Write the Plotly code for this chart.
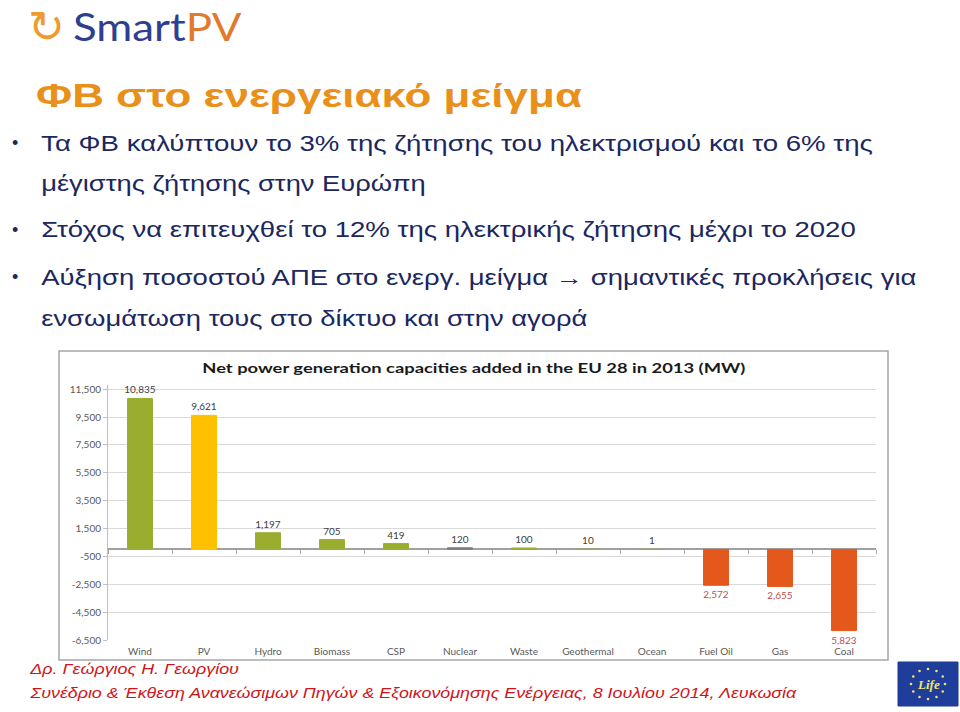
import math
import json
import plotly.graph_objects as go

# ---- data ----
categories = ["Wind", "PV", "Hydro", "Biomass", "CSP", "Nuclear", "Waste",
              "Geothermal", "Ocean", "Fuel Oil", "Gas", "Coal"]
values_mw = [10835, 9621, 1197, 705, 419, 120, 100, 10, 1, -2572, -2655, -5823]
bar_colors = ["#9AAD2F", "#FFC000", "#9AAD2F", "#9AAD2F", "#9AAD2F", "#7F7F7F",
              "#9AAD2F", "#9AAD2F", "#9AAD2F", "#E4581B", "#E4581B", "#E4581B"]
ytick_vals = [11500, 9500, 7500, 5500, 3500, 1500, -500, -2500, -4500, -6500]
ytick_text = ["11,500", "9,500", "7,500", "5,500", "3,500", "1,500", "-500",
              "-2,500", "-4,500", "-6,500"]
y_range = [-6500, 11800]

chart_title = "Net power generation capacities added in the EU 28 in 2013 (MW)"
slide_title = "ΦΒ στο ενεργειακό μείγμα"
bullet_lines = [
    ("•", "Τα ΦΒ καλύπτουν το 3% της ζήτησης του ηλεκτρισμού και το 6% της", 143, 832),
    ("", "μέγιστης ζήτησης στην Ευρώπη", 184, 385),
    ("•", "Στόχος να επιτευχθεί το 12% της ηλεκτρικής ζήτησης μέχρι το 2020", 230, 815),
    ("•", "Αύξηση ποσοστού ΑΠΕ στο ενεργ. μείγμα <b>→</b> σημαντικές προκλήσεις για", 277, 876),
    ("", "ενσωμάτωση τους στο δίκτυο και στην αγορά", 318, 547),
]
footer1 = "Δρ. Γεώργιος Η. Γεωργίου"
footer2 = "Συνέδριο & Έκθεση Ανανεώσιμων Πηγών & Εξοικονόμησης Ενέργειας, 8 Ιουλίου 2014, Λευκωσία"

# ---- layout geometry (pixels) ----
W, H = 960, 712
L, R, T, B = 108, 84, 385, 72
PW, PH = W - L - R, H - T - B


def px(x):
    return (x - L) / PW


def py(y):
    return (H - B - y) / PH


label_text = [f"{abs(v):,}" for v in values_mw]
label_colors = ["#404040" if v >= 0 else "#C0504D" for v in values_mw]

fig = go.Figure()
fig.add_trace(go.Bar(
    x=categories, y=values_mw,
    marker=dict(color=bar_colors, line=dict(color=bar_colors, width=1)),
    text=label_text, textposition="outside", constraintext="none",
    textfont=dict(family="Lato", size=10, color=label_colors),
    cliponaxis=False, width=0.39, hoverinfo="x+y",
))
# invisible trace to carry the boundary ticks on the zero line
fig.add_trace(go.Scatter(x=categories, y=[0] * len(categories), xaxis="x2",
                         mode="markers", marker=dict(opacity=0), hoverinfo="skip"))

zero_pos = (0 - y_range[0]) / (y_range[1] - y_range[0])

fig.update_layout(
    width=W, height=H,
    margin=dict(l=L, r=R, t=T, b=B),
    paper_bgcolor="white", plot_bgcolor="white",
    showlegend=False,
    xaxis=dict(type="category", showline=False, ticks="", showgrid=False,
               ticklabelstandoff=4,
               tickfont=dict(family="Lato", size=10, color="#595959"),
               range=[-0.5, len(categories) - 0.5]),
    xaxis2=dict(type="category", overlaying="x", anchor="free", position=zero_pos,
                side="bottom", showline=False, showgrid=False, showticklabels=False,
                ticks="outside", ticklen=4, tickcolor="#A6A6A6", tickson="boundaries",
                range=[-0.5, len(categories) - 0.5]),
    yaxis=dict(range=y_range, tickvals=ytick_vals, ticktext=ytick_text,
               showgrid=True, gridcolor="#D9D9D9", gridwidth=1,
               zeroline=True, zerolinecolor="#A0A0A0", zerolinewidth=1.5,
               showline=True, linecolor="#BFBFBF", linewidth=1,
               ticks="outside", ticklen=4, tickcolor="#BFBFBF",
               tickfont=dict(family="Lato", size=10, color="#595959")),
)

shapes = [
    # chart frame
    dict(type="rect", xref="paper", yref="paper", x0=px(59), x1=px(888), y0=py(660), y1=py(351),
         line=dict(color="#A6A6A6", width=1.5), fillcolor="rgba(0,0,0,0)", layer="below"),
    # EU Life logo box
    dict(type="rect", xref="paper", yref="paper", x0=px(898), x1=px(958), y0=py(706), y1=py(662),
         line=dict(color="#1A3A8F", width=1), fillcolor="#1F3E9C"),
]
# ring of stars on the Life logo (decoration)
for k in range(12):
    a = 2 * math.pi * k / 12
    cx, cy = 928 + 17 * math.cos(a), 684 + 15 * math.sin(a)
    shapes.append(dict(type="circle", xref="paper", yref="paper",
                       x0=px(cx - 1.3), x1=px(cx + 1.3), y0=py(cy + 1.3), y1=py(cy - 1.3),
                       line=dict(width=0), fillcolor="#F3E36A"))

ann = []
stretch = []  # (annotation index, target width px, anchor)


def add_ann(text, x, y, font, xanchor="left", target=None):
    ann.append(dict(text=text, x=px(x), y=py(y), xref="paper", yref="paper", showarrow=False,
                    xanchor=xanchor, yanchor="middle", font=font))
    if target:
        stretch.append([len(ann) - 1, target, xanchor])


# logo
add_ann("↻", 46, 26, dict(family="DejaVu Sans", size=44, color="#EE9A2E"), xanchor="center")
add_ann("<span style='color:#2E3F8F'>Smart</span><span style='color:#E07A2C'>PV</span>",
        71, 26, dict(family="Lato", size=39, color="#2E3F8F"), target=169)
# slide title
add_ann("<b>" + slide_title + "</b>", 34, 95,
        dict(family="Liberation Sans", size=33, color="#E8901A"), target=546)
# bullets
for bullet, line, ypix, wtarget in bullet_lines:
    if bullet:
        add_ann(bullet, 10, ypix, dict(family="Liberation Sans", size=18, color="#1B275E"))
    add_ann(line, 39, ypix, dict(family="Liberation Sans", size=22, color="#1B275E"), target=wtarget)
# chart title
add_ann("<b>" + chart_title + "</b>", 474, 367,
        dict(family="Lato", size=14, color="#1A1A1A"), xanchor="center", target=544)
# footer
add_ann("<i>" + footer1 + "</i>", 27, 668,
        dict(family="Liberation Sans", size=15, color="#D0141A"), target=210)
add_ann("<i>" + footer2 + "</i>", 27, 692,
        dict(family="Liberation Sans", size=15, color="#D0141A"), target=768)
# Life logo text
add_ann("<i><b>Life</b></i>", 928, 684,
        dict(family="Liberation Serif", size=13, color="#F3E36A"), xanchor="center")

fig.update_layout(shapes=shapes, annotations=ann)

# horizontal stretch of slide texts to the widths of the (horizontally stretched) original slide
post_js = """
(function(){
var gd = document.getElementById('{plot_id}');
var targets = %s;
function apply(){
  targets.forEach(function(t){
    var el = gd.querySelector('g.annotation[data-index="' + t[0] + '"] text.annotation-text');
    if(!el || el.getAttribute('data-stretched')) return;
    var bb = el.getBBox();
    if(!bb.width) return;
    var s = t[1] / bb.width;
    var x0 = (t[2] === 'left') ? bb.x : bb.x + bb.width / 2;
    var tr = el.getAttribute('transform') || '';
    el.setAttribute('transform', tr + ' translate(' + (x0 * (1 - s)) + ',0) scale(' + s + ',1)');
    el.setAttribute('data-stretched', '1');
  });
}
apply();
setTimeout(apply, 50);
setTimeout(apply, 300);
if (gd.on) gd.on('plotly_afterplot', function(){ setTimeout(apply, 0); });
})();
""" % json.dumps(stretch)

fig.write_html("out.html", post_script=post_js)
